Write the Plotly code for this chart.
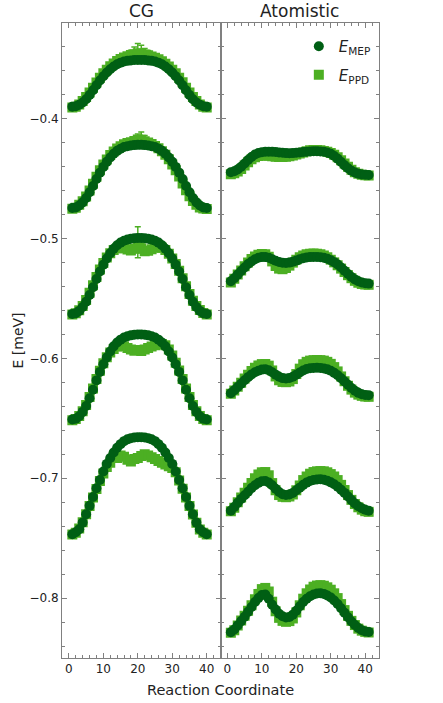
import plotly.graph_objects as go
from plotly.subplots import make_subplots

# reaction coordinate (image index along the path)
cg_x = list(range(1, 41))
at_x = list(range(1, 42))

# ---- CG: minimum energy path (E_MEP) ----
cg1_mep = [-0.3898, -0.3894, -0.3882, -0.3863, -0.3836, -0.3801, -0.3762, -0.3719, -0.3680, -0.3644,
           -0.3613, -0.3586, -0.3563, -0.3545, -0.3531, -0.3522, -0.3516, -0.3512, -0.3509, -0.3508,
           -0.3508, -0.3509, -0.3512, -0.3516, -0.3522, -0.3531, -0.3545, -0.3563, -0.3586, -0.3613,
           -0.3644, -0.3680, -0.3719, -0.3762, -0.3801, -0.3836, -0.3863, -0.3882, -0.3894, -0.3898]
cg2_mep = [-0.4744, -0.4739, -0.4723, -0.4697, -0.4660, -0.4612, -0.4560, -0.4502, -0.4449, -0.4401,
           -0.4359, -0.4322, -0.4291, -0.4267, -0.4249, -0.4235, -0.4228, -0.4222, -0.4219, -0.4217,
           -0.4217, -0.4219, -0.4222, -0.4228, -0.4235, -0.4249, -0.4267, -0.4291, -0.4322, -0.4359,
           -0.4401, -0.4449, -0.4502, -0.4560, -0.4612, -0.4660, -0.4697, -0.4723, -0.4739, -0.4744]
cg3_mep = [-0.5628, -0.5622, -0.5603, -0.5571, -0.5527, -0.5470, -0.5406, -0.5337, -0.5274, -0.5217,
           -0.5166, -0.5122, -0.5084, -0.5055, -0.5033, -0.5017, -0.5008, -0.5001, -0.4997, -0.4995,
           -0.4995, -0.4997, -0.5001, -0.5008, -0.5017, -0.5033, -0.5055, -0.5084, -0.5122, -0.5166,
           -0.5217, -0.5274, -0.5337, -0.5406, -0.5470, -0.5527, -0.5571, -0.5603, -0.5622, -0.5628]
cg4_mep = [-0.6510, -0.6503, -0.6482, -0.6446, -0.6396, -0.6332, -0.6261, -0.6183, -0.6112, -0.6048,
           -0.5992, -0.5942, -0.5899, -0.5867, -0.5843, -0.5825, -0.5814, -0.5807, -0.5802, -0.5800,
           -0.5800, -0.5802, -0.5807, -0.5814, -0.5825, -0.5843, -0.5867, -0.5899, -0.5942, -0.5992,
           -0.6048, -0.6112, -0.6183, -0.6261, -0.6332, -0.6396, -0.6446, -0.6482, -0.6503, -0.6510]
cg5_mep = [-0.7467, -0.7450, -0.7425, -0.7370, -0.7300, -0.7230, -0.7156, -0.7083, -0.7014, -0.6944,
           -0.6880, -0.6830, -0.6785, -0.6745, -0.6715, -0.6690, -0.6675, -0.6665, -0.6660, -0.6658,
           -0.6658, -0.6660, -0.6665, -0.6675, -0.6690, -0.6715, -0.6745, -0.6785, -0.6830, -0.6880,
           -0.6944, -0.7014, -0.7083, -0.7156, -0.7230, -0.7300, -0.7370, -0.7425, -0.7450, -0.7467]

# ---- CG: path probability distribution estimate (E_PPD) ----
cg1_ppd = [-0.3905, -0.3898, -0.3880, -0.3850, -0.3818, -0.3780, -0.3740, -0.3696, -0.3656, -0.3620,
           -0.3590, -0.3562, -0.3538, -0.3518, -0.3500, -0.3488, -0.3478, -0.3468, -0.3460, -0.3452,
           -0.3455, -0.3462, -0.3470, -0.3480, -0.3490, -0.3502, -0.3520, -0.3540, -0.3563, -0.3590,
           -0.3620, -0.3656, -0.3695, -0.3740, -0.3780, -0.3818, -0.3850, -0.3880, -0.3898, -0.3905]
cg2_ppd = [-0.4750, -0.4742, -0.4718, -0.4688, -0.4648, -0.4598, -0.4542, -0.4484, -0.4430, -0.4382,
           -0.4340, -0.4302, -0.4272, -0.4248, -0.4228, -0.4212, -0.4202, -0.4195, -0.4185, -0.4172,
           -0.4175, -0.4188, -0.4198, -0.4210, -0.4226, -0.4246, -0.4270, -0.4300, -0.4338, -0.4380,
           -0.4428, -0.4482, -0.4540, -0.4596, -0.4646, -0.4686, -0.4716, -0.4740, -0.4748, -0.4752]
cg3_ppd = [-0.5632, -0.5622, -0.5598, -0.5562, -0.5512, -0.5452, -0.5388, -0.5320, -0.5258, -0.5204,
           -0.5158, -0.5122, -0.5095, -0.5080, -0.5075, -0.5080, -0.5090, -0.5098, -0.5085, -0.5030,
           -0.5080, -0.5105, -0.5100, -0.5088, -0.5075, -0.5070, -0.5075, -0.5095, -0.5125, -0.5165,
           -0.5212, -0.5268, -0.5330, -0.5398, -0.5462, -0.5518, -0.5562, -0.5596, -0.5620, -0.5632]
cg4_ppd = [-0.6515, -0.6505, -0.6480, -0.6440, -0.6388, -0.6322, -0.6250, -0.6172, -0.6102, -0.6040,
           -0.5990, -0.5950, -0.5920, -0.5900, -0.5892, -0.5898, -0.5912, -0.5925, -0.5935, -0.5930,
           -0.5938, -0.5925, -0.5912, -0.5900, -0.5890, -0.5882, -0.5880, -0.5890, -0.5925, -0.5975,
           -0.6035, -0.6100, -0.6172, -0.6250, -0.6322, -0.6388, -0.6440, -0.6480, -0.6505, -0.6515]
cg5_ppd = [-0.7470, -0.7455, -0.7420, -0.7368, -0.7300, -0.7232, -0.7160, -0.7090, -0.7022, -0.6960,
           -0.6905, -0.6870, -0.6820, -0.6830, -0.6810, -0.6820, -0.6845, -0.6860, -0.6840, -0.6830,
           -0.6815, -0.6800, -0.6810, -0.6825, -0.6840, -0.6855, -0.6870, -0.6885, -0.6900, -0.6915,
           -0.6950, -0.7018, -0.7088, -0.7160, -0.7232, -0.7302, -0.7372, -0.7428, -0.7455, -0.7470]

# error bars on the CG E_PPD points
cg1_err = [0.0015] * 16 + [0.003, 0.004, 0.006, 0.008, 0.007, 0.005, 0.004, 0.003] + [0.0015] * 16
cg2_err = [0.0015] * 18 + [0.003, 0.0045, 0.0065, 0.005, 0.003] + [0.0015] * 17
cg3_err = [0.0015] * 18 + [0.003, 0.013, 0.004, 0.002] + [0.0015] * 18
cg4_err = [0.0015] * 40
cg5_err = [0.0015] * 40

# ---- Atomistic: E_MEP ----
at1_mep = [-0.4445, -0.4438, -0.4422, -0.4400, -0.4372, -0.4343, -0.4318, -0.4298, -0.4285, -0.4278,
           -0.4275, -0.4274, -0.4275, -0.4277, -0.4280, -0.4283, -0.4286, -0.4287, -0.4286, -0.4283,
           -0.4280, -0.4277, -0.4274, -0.4272, -0.4271, -0.4271, -0.4272, -0.4275, -0.4281, -0.4292,
           -0.4310, -0.4333, -0.4360, -0.4388, -0.4413, -0.4433, -0.4448, -0.4458, -0.4464, -0.4467,
           -0.4468]
at2_mep = [-0.5356, -0.5330, -0.5300, -0.5270, -0.5240, -0.5212, -0.5190, -0.5172, -0.5160, -0.5154,
           -0.5153, -0.5160, -0.5172, -0.5185, -0.5195, -0.5201, -0.5203, -0.5200, -0.5193, -0.5183,
           -0.5172, -0.5163, -0.5157, -0.5154, -0.5153, -0.5153, -0.5155, -0.5160, -0.5168, -0.5180,
           -0.5196, -0.5216, -0.5240, -0.5268, -0.5295, -0.5320, -0.5340, -0.5355, -0.5365, -0.5372,
           -0.5375]
at3_mep = [-0.6290, -0.6265, -0.6238, -0.6210, -0.6182, -0.6156, -0.6133, -0.6115, -0.6102, -0.6093,
           -0.6090, -0.6098, -0.6115, -0.6135, -0.6153, -0.6164, -0.6167, -0.6163, -0.6152, -0.6135,
           -0.6117, -0.6100, -0.6088, -0.6082, -0.6079, -0.6078, -0.6079, -0.6083, -0.6091, -0.6103,
           -0.6120, -0.6140, -0.6165, -0.6192, -0.6220, -0.6247, -0.6270, -0.6287, -0.6298, -0.6304,
           -0.6306]
at4_mep = [-0.7270, -0.7240, -0.7205, -0.7172, -0.7142, -0.7112, -0.7082, -0.7058, -0.7038, -0.7025,
           -0.7022, -0.7035, -0.7058, -0.7088, -0.7115, -0.7133, -0.7139, -0.7135, -0.7122, -0.7100,
           -0.7078, -0.7055, -0.7036, -0.7022, -0.7014, -0.7010, -0.7008, -0.7012, -0.7020, -0.7034,
           -0.7050, -0.7070, -0.7095, -0.7122, -0.7152, -0.7182, -0.7210, -0.7233, -0.7250, -0.7263,
           -0.7270]
at5_mep = [-0.8285, -0.8262, -0.8228, -0.8192, -0.8155, -0.8115, -0.8075, -0.8033, -0.8000, -0.7975,
           -0.7970, -0.8005, -0.8055, -0.8095, -0.8130, -0.8152, -0.8162, -0.8158, -0.8138, -0.8105,
           -0.8068, -0.8033, -0.8005, -0.7985, -0.7970, -0.7962, -0.7960, -0.7965, -0.7978, -0.7995,
           -0.8020, -0.8050, -0.8085, -0.8122, -0.8160, -0.8195, -0.8225, -0.8250, -0.8268, -0.8278,
           -0.8282]

# ---- Atomistic: E_PPD ----
at1_ppd = [-0.4462, -0.4455, -0.4440, -0.4418, -0.4390, -0.4362, -0.4338, -0.4320, -0.4310, -0.4305,
           -0.4305, -0.4308, -0.4312, -0.4316, -0.4318, -0.4318, -0.4316, -0.4312, -0.4306, -0.4298,
           -0.4290, -0.4280, -0.4270, -0.4263, -0.4260, -0.4260, -0.4263, -0.4268, -0.4275, -0.4285,
           -0.4300, -0.4320, -0.4345, -0.4373, -0.4400, -0.4425, -0.4445, -0.4458, -0.4466, -0.4470,
           -0.4472]
at2_ppd = [-0.5365, -0.5335, -0.5300, -0.5265, -0.5230, -0.5198, -0.5170, -0.5148, -0.5135, -0.5129,
           -0.5130, -0.5150, -0.5190, -0.5228, -0.5250, -0.5255, -0.5245, -0.5225, -0.5200, -0.5175,
           -0.5155, -0.5140, -0.5130, -0.5125, -0.5124, -0.5125, -0.5130, -0.5140, -0.5155, -0.5175,
           -0.5198, -0.5222, -0.5250, -0.5278, -0.5305, -0.5330, -0.5352, -0.5368, -0.5378, -0.5383,
           -0.5385]
at3_ppd = [-0.6295, -0.6268, -0.6235, -0.6202, -0.6168, -0.6135, -0.6105, -0.6078, -0.6058, -0.6047,
           -0.6046, -0.6060, -0.6100, -0.6150, -0.6182, -0.6196, -0.6198, -0.6192, -0.6172, -0.6130,
           -0.6085, -0.6048, -0.6028, -0.6018, -0.6014, -0.6013, -0.6014, -0.6018, -0.6028, -0.6045,
           -0.6072, -0.6108, -0.6150, -0.6190, -0.6228, -0.6260, -0.6285, -0.6302, -0.6312, -0.6318,
           -0.6320]
at4_ppd = [-0.7275, -0.7245, -0.7200, -0.7160, -0.7120, -0.7080, -0.7040, -0.7000, -0.6968, -0.6950,
           -0.6948, -0.6975, -0.7040, -0.7100, -0.7140, -0.7155, -0.7158, -0.7152, -0.7135, -0.7100,
           -0.7060, -0.7015, -0.6985, -0.6962, -0.6948, -0.6942, -0.6940, -0.6942, -0.6950, -0.6965,
           -0.6985, -0.7015, -0.7055, -0.7098, -0.7140, -0.7180, -0.7215, -0.7242, -0.7262, -0.7275,
           -0.7280]
at5_ppd = [-0.8290, -0.8268, -0.8228, -0.8188, -0.8148, -0.8105, -0.8060, -0.8010, -0.7965, -0.7925,
           -0.7915, -0.7945, -0.8030, -0.8110, -0.8165, -0.8190, -0.8198, -0.8192, -0.8170, -0.8120,
           -0.8060, -0.8005, -0.7960, -0.7928, -0.7905, -0.7895, -0.7892, -0.7897, -0.7910, -0.7930,
           -0.7960, -0.8000, -0.8050, -0.8100, -0.8148, -0.8190, -0.8225, -0.8255, -0.8272, -0.8282,
           -0.8287]
at_err = 0.0015

DARK = "#005f14"
LIGHT = "#4caf23"
AXIS = "#808080"
FONT = "DejaVu Sans"

cg_mep = [cg1_mep, cg2_mep, cg3_mep, cg4_mep, cg5_mep]
cg_ppd = [cg1_ppd, cg2_ppd, cg3_ppd, cg4_ppd, cg5_ppd]
cg_err = [cg1_err, cg2_err, cg3_err, cg4_err, cg5_err]
at_mep = [at1_mep, at2_mep, at3_mep, at4_mep, at5_mep]
at_ppd = [at1_ppd, at2_ppd, at3_ppd, at4_ppd, at5_ppd]

fig = make_subplots(rows=1, cols=2, shared_yaxes=True, horizontal_spacing=0,
                    subplot_titles=("CG", "Atomistic"))

# squares first so the circles sit on top
for col, xs, sets, errs in [(1, cg_x, cg_ppd, cg_err), (2, at_x, at_ppd, [None] * 5)]:
    for i, ys in enumerate(sets):
        err = errs[i] if errs[i] is not None else [at_err] * len(ys)
        fig.add_trace(go.Scatter(
            x=xs, y=ys, mode='markers',
            marker=dict(symbol='square', size=10, color=LIGHT, line=dict(width=0)),
            error_y=dict(type='data', array=err, color=LIGHT, thickness=1.5, width=3),
            name='<i>E</i><sub>PPD</sub>', legendgroup='ppd', legendrank=2,
            showlegend=(col == 2 and i == 0)
        ), row=1, col=col)

for col, xs, sets in [(1, cg_x, cg_mep), (2, at_x, at_mep)]:
    for i, ys in enumerate(sets):
        fig.add_trace(go.Scatter(
            x=xs, y=ys, mode='markers',
            marker=dict(symbol='circle', size=10, color=DARK, line=dict(width=0)),
            name='<i>E</i><sub>MEP</sub>', legendgroup='mep', legendrank=1,
            showlegend=(col == 2 and i == 0)
        ), row=1, col=col)

axis_common = dict(
    showline=True, linecolor=AXIS, linewidth=1, mirror='ticks',
    ticks='inside', ticklen=5, tickcolor=AXIS, tickwidth=1,
    showgrid=False, zeroline=False,
    tickfont=dict(family=FONT, size=12, color="#222222"),
)
for c in (1, 2):
    fig.update_xaxes(range=[-2, 44], tick0=0, dtick=10,
                     minor=dict(ticks='inside', ticklen=3, dtick=2, tickcolor=AXIS),
                     row=1, col=c, **axis_common)
    fig.update_yaxes(range=[-0.85, -0.32], tick0=0, dtick=0.1,
                     minor=dict(ticks='inside', ticklen=3, dtick=0.02, tickcolor=AXIS),
                     row=1, col=c, **axis_common)
fig.update_yaxes(showticklabels=False, row=1, col=2)

fig.update_annotations(font=dict(family=FONT, size=17, color="#222222"))

fig.add_annotation(text="Reaction Coordinate", xref='paper', yref='paper', x=0.5, y=0,
                   yanchor='top', yshift=-22, showarrow=False,
                   font=dict(family=FONT, size=14.5, color="#222222"))
fig.add_annotation(text="E [meV]", xref='paper', yref='paper', x=0, y=0.5,
                   xanchor='center', xshift=-45, textangle=-90, showarrow=False,
                   font=dict(family=FONT, size=14, color="#222222"))

fig.update_layout(
    width=443, height=703,
    margin=dict(l=62, r=64, t=23, b=45),
    plot_bgcolor='white', paper_bgcolor='white',
    font=dict(family=FONT),
    showlegend=True,
    legend=dict(x=0.99, y=0.989, xanchor='right', yanchor='top',
                bgcolor='rgba(0,0,0,0)', font=dict(family=FONT, size=15, color="#222222"),
                tracegroupgap=6, traceorder='grouped'),
)

# drop the default 8 px page margin so the figure sits at the window corner
fig.write_html("out.html", config={'displayModeBar': False},
               post_script="document.body.style.margin='0px';")
